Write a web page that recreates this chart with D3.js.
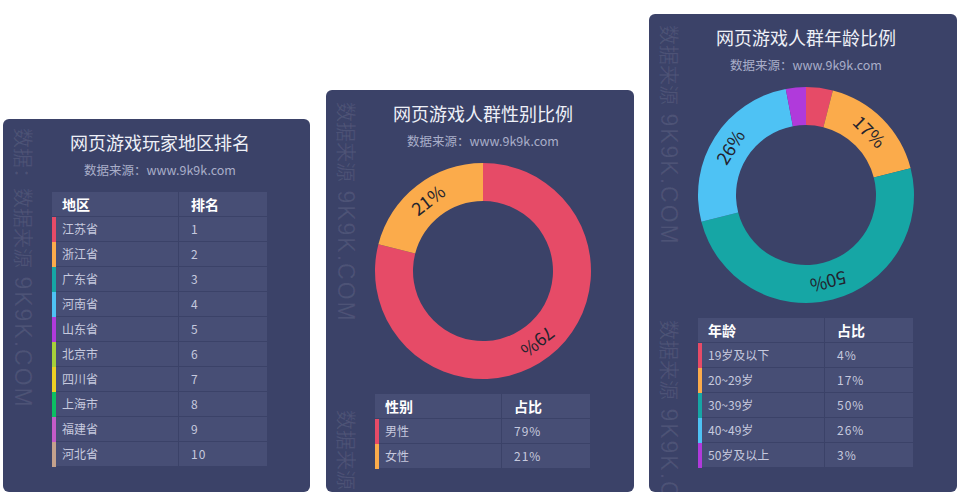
<!DOCTYPE html>
<html>
<head>
<meta charset="utf-8">
<script src="https://cdn.jsdelivr.net/npm/d3@7"></script>
<style>
  body { margin: 0; background: #fff; }
  text { font-family: "Noto Sans CJK SC", "Noto Sans", sans-serif; }
</style>
</head>
<body>
<div id="chart"></div>
<script>
const width = 961, height = 498;

// data
const regionNames = ["江苏省", "浙江省", "广东省", "河南省", "山东省", "北京市", "四川省", "上海市", "福建省", "河北省"];
const regionRanks = [1, 2, 3, 4, 5, 6, 7, 8, 9, 10];
const genderNames = ["男性", "女性"];
const genderValues = [79, 21];
const ageNames = ["19岁及以下", "20~29岁", "30~39岁", "40~49岁", "50岁及以上"];
const ageValues = [4, 17, 50, 26, 3];

const palette = ["#e64b67", "#fbab4b", "#16a6a5", "#4ec2f4", "#b03adb",
                 "#a6d03a", "#ecd024", "#0cbf63", "#c45bc8", "#c3a18d"];

const panelBg = "#3b4268", cellBg = "#474e75";

const svg = d3.select("#chart").append("svg")
    .attr("width", width)
    .attr("height", height);

function panel(x, y, w, h, title, marks) {
    const g = svg.append("g").attr("transform", `translate(${x},${y})`);
    g.append("rect")
        .attr("width", w).attr("height", h)
        .attr("rx", 6)
        .attr("fill", panelBg);
    // vertical watermark, clipped by the panel
    const clip = "clip" + x;
    g.append("clipPath").attr("id", clip)
        .append("rect").attr("width", w).attr("height", h).attr("rx", 6);
    const wm = g.append("g").attr("clip-path", `url(#${clip})`);
    marks.forEach(m => {
        const t = wm.append("text")
            .attr("transform", `translate(12,${m.y}) rotate(90)`)
            .attr("font-size", 20)
            .attr("fill", "rgba(255,255,255,0.09)");
        t.append("tspan").text(m.cn);
        if (m.en) {
            t.append("tspan")
                .attr("font-family", "'Liberation Sans', sans-serif")
                .attr("font-size", 23)
                .attr("letter-spacing", 2)
                .text(" " + m.en);
        }
    });
    g.append("text")
        .attr("x", 157).attr("y", 31)
        .attr("text-anchor", "middle")
        .attr("font-size", 18)
        .attr("fill", "#eef0f7")
        .text(title);
    g.append("text")
        .attr("x", 157).attr("y", 56)
        .attr("text-anchor", "middle")
        .attr("font-family", "'Liberation Sans', 'Noto Sans CJK SC', sans-serif")
        .attr("font-size", 12.5)
        .attr("fill", "#a9aec8")
        .text("数据来源：www.9k9k.com");
    return g;
}

function table(g, top, heads, col1, col2) {
    const left = 49, c1 = 127, c2 = 88;
    const y = d3.scaleBand()
        .domain(d3.range(col1.length + 1))
        .range([top, top + 25 * (col1.length + 1)]);
    const rows = g.selectAll(".row" + top)
        .data(d3.range(col1.length + 1))
        .enter().append("g")
        .attr("transform", i => `translate(0,${y(i)})`);
    rows.append("rect")
        .attr("x", left).attr("width", c1 - 1)
        .attr("height", y.bandwidth() - 1)
        .attr("fill", cellBg);
    rows.append("rect")
        .attr("x", left + c1).attr("width", c2)
        .attr("height", y.bandwidth() - 1)
        .attr("fill", cellBg);
    rows.filter(i => i > 0).append("rect")
        .attr("x", left).attr("width", 4)
        .attr("height", y.bandwidth())
        .attr("fill", i => palette[i - 1]);
    rows.append("text")
        .attr("x", left + 10).attr("y", 13).attr("dy", "0.35em")
        .attr("font-size", i => i ? 12 : 14)
        .attr("font-weight", i => i ? "normal" : "bold")
        .attr("fill", i => i ? "#c6c9de" : "#ffffff")
        .text(i => i ? col1[i - 1] : heads[0]);
    rows.append("text")
        .attr("x", left + c1 + 12).attr("y", 13).attr("dy", "0.35em")
        .attr("font-size", i => i ? 12 : 14)
        .attr("font-weight", i => i ? "normal" : "bold")
        .attr("letter-spacing", i => i ? 1 : 0)
        .attr("fill", i => i ? "#c6c9de" : "#ffffff")
        .text(i => i ? col2[i - 1] : heads[1]);
}

function donut(g, cy, values) {
    const pie = d3.pie().sort(null).value(d => d);
    const arc = d3.arc().innerRadius(70).outerRadius(108);
    const labelArc = d3.arc().innerRadius(89).outerRadius(89);
    const dg = g.append("g").attr("transform", `translate(157,${cy})`);
    const arcs = pie(values);
    dg.selectAll("path")
        .data(arcs)
        .enter().append("path")
        .attr("d", arc)
        .attr("fill", (d, i) => palette[i]);
    // labels turned along the ring, small slices left bare
    dg.selectAll(".lbl")
        .data(arcs.filter(d => d.data >= 10))
        .enter().append("text")
        .attr("transform", d => {
            const c = labelArc.centroid(d);
            const a = (d.startAngle + d.endAngle) / 2 * 180 / Math.PI;
            return `translate(${c[0]},${c[1]}) rotate(${a})`;
        })
        .attr("text-anchor", "middle")
        .attr("dy", "0.35em")
        .attr("font-family", "'Open Sans', sans-serif")
        .attr("font-size", 18)
        .attr("fill", "#23232e")
        .text(d => d.data + "%");
}

// panel 1: region ranking
const p1 = panel(3, 119, 307, 373, "网页游戏玩家地区排名",
    [{ y: 9, cn: "数据：数据来源", en: "9K9K.COM" }]);
table(p1, 73, ["地区", "排名"], regionNames, regionRanks);

// panel 2: gender
const p2 = panel(326, 90, 308, 402, "网页游戏人群性别比例",
    [{ y: 12, cn: "数据来源", en: "9K9K.COM" }, { y: 320, cn: "数据来源" }]);
donut(p2, 181, genderValues);
table(p2, 304, ["性别", "占比"], genderNames, genderValues.map(v => v + "%"));

// panel 3: age
const p3 = panel(649, 14, 308, 478, "网页游戏人群年龄比例",
    [{ y: 11, cn: "数据来源", en: "9K9K.COM" }, { y: 306, cn: "数据来源", en: "9K9K.COM" }]);
donut(p3, 181, ageValues);
table(p3, 304, ["年龄", "占比"], ageNames, ageValues.map(v => v + "%"));
</script>
</body>
</html>
